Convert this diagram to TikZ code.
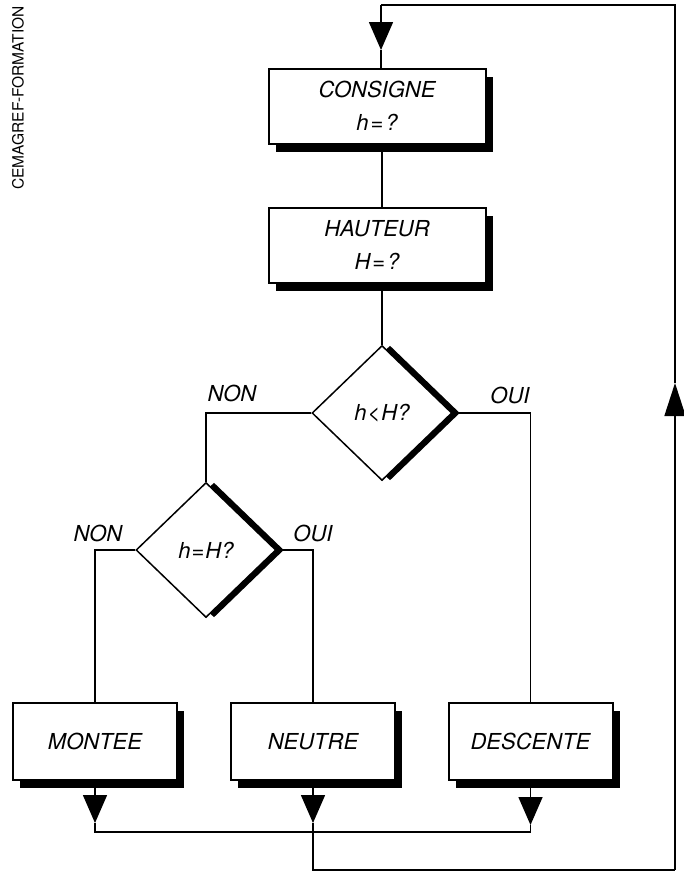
\documentclass[tikz,border=0pt]{standalone}
\usepackage{fontspec}
\setmainfont{TeX Gyre Heros}
\usetikzlibrary{shapes.geometric,shadows,arrows.meta}
\begin{document}
\begin{tikzpicture}[x=1pt,y=-1pt,
  lbl/.style={font=\fontsize{22}{33}\selectfont\itshape},
  box/.style={draw=black, fill=white, line width=2pt, inner sep=0pt, align=center, lbl,
    general shadow={shadow xshift=7pt, shadow yshift=-8pt, fill=black}},
  bigbox/.style={box, minimum width=217pt, minimum height=75pt},
  endbox/.style={box, minimum width=164pt, minimum height=77pt},
  test/.style={diamond, draw=black, fill=white, line width=1.5pt, inner sep=0pt,
    minimum width=140pt, minimum height=135pt, lbl,
    general shadow={shadow xshift=8pt, fill=black}},
  conn/.style={line width=1.6pt},
  tip/.style={-{Triangle[length=28pt,width=24pt]}},
  uptip/.style={-{Triangle[length=33pt,width=21pt]}},
]
\useasboundingbox (0,0) rectangle (684,873);

% side credit
\node[rotate=90, font=\fontsize{15.5}{18}\selectfont] (credit) at (18,98) {CEMAGREF-FORMATION};

% process boxes
\node[bigbox] (cons) at (377,106) {CONSIGNE\\h\kern2pt=\kern2pt?};
\node[bigbox] (haut) at (377,245) {HAUTEUR\\H\kern2pt=\kern2pt?};

% decisions
\node[test] (d1) at (382,413) {h\kern1pt<\kern1ptH?};
\node[test] (d2) at (206,550) {h\kern1pt=\kern1ptH?};

% outcomes
\node[endbox] (mont) at (95,741.5) {MONTEE};
\node[endbox] (neut) at (313,741.5) {NEUTRE};
\node[endbox] (desc) at (530.5,741.5) {DESCENTE};

% branch labels
\node[lbl] (non1) at (232,393) {NON};
\node[lbl] (oui1) at (510,395) {OUI};
\node[lbl] (non2) at (98,533) {NON};
\node[lbl] (oui2) at (313,533) {OUI};

% main flow
\draw[conn] (cons.south -| d1.north) -- (haut.north -| d1.north);
\draw[conn] (haut.south -| d1.north) -- (d1.north);
\draw[conn] (d1.west) -| (d2.north);
\draw[conn] (d1.east) -| (desc.north);
\draw[conn] (d2.west) -| (mont.north);
\draw[conn] (d2.east) -| (neut.north);

% collecting lines below the outcomes
\coordinate (am) at (95,823);
\coordinate (an) at (313,823);
\coordinate (ad) at (530.5,825);
\coordinate (jm) at (95,832);
\coordinate (jd) at (530.5,832);
\coordinate (bl) at (313,870);
\coordinate (br) at (675,870);
\coordinate (ar) at (675,383);
\coordinate (tr) at (675,5);
\coordinate (tl) at (381,5);
\coordinate (at) at (381,50);

\draw[conn,tip] (mont.south) -- (am);
\draw[conn,tip] (neut.south) -- (an);
\draw[conn,tip] (desc.south) -- (ad);
\draw[conn] (am) -- (jm) -- (jd) -- (ad);
\draw[conn] (an) -- (bl) -- (br);
\draw[conn,uptip] (br) -- (ar);
\draw[conn] (ar) -- (tr) -- (tl);
\draw[conn,tip] (tl) -- (at);
\draw[conn] (at) -- (cons.north -| at);
\end{tikzpicture}
\end{document}
